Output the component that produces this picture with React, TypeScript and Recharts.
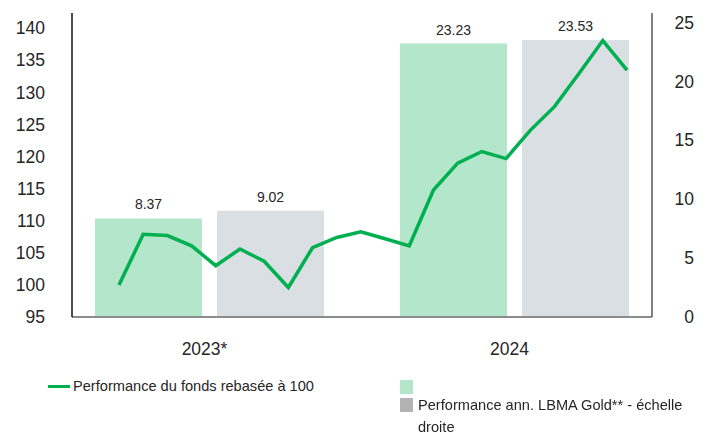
import React from "react";
import {
  BarChart,
  Bar,
  LineChart,
  Line,
  XAxis,
  YAxis,
  LabelList,
} from "recharts";

const years = ["2023*", "2024"];
const fundAnnual = [8.37, 23.23];
const goldAnnual = [9.02, 23.53];

const months = [
  "03/23", "04/23", "05/23", "06/23", "07/23", "08/23", "09/23", "10/23", "11/23", "12/23",
  "01/24", "02/24", "03/24", "04/24", "05/24", "06/24", "07/24", "08/24", "09/24", "10/24",
  "11/24", "12/24",
];
const fundIndex = [
  100.0, 107.9, 107.7, 106.1, 103.0, 105.6, 103.7, 99.6, 105.8, 107.4,
  108.3, 107.2, 106.1, 114.8, 119.0, 120.8, 119.7, 124.1, 127.8, 132.9,
  138.1, 133.5,
];

const leftTicks = [95, 100, 105, 110, 115, 120, 125, 130, 135, 140];
const rightTicks = [0, 5, 10, 15, 20, 25];

const GREEN = "#00b050";
const BAR_GREEN = "#b3e6cb";
const BAR_GREY = "#dadfe3";
const TEXT = "#262626";
const FONT = "'Liberation Sans', Arial, sans-serif";

const W = 706;
const H = 436;

const barData = years.map((y, i) => ({ year: y, fund: fundAnnual[i], gold: goldAnnual[i] }));
const lineData = months.map((m, i) => ({ month: m, value: fundIndex[i] }));

function YearTick({ x, y, payload }: any) {
  return (
    <text x={x - 5} y={y} dy={12} textAnchor="middle" fill={TEXT} fontSize={17.5} fontFamily={FONT}>
      {payload.value}
    </text>
  );
}

function RightTick({ x, y, payload }: any) {
  return (
    <text x={x + 40} y={y} dy={6} textAnchor="end" fill={TEXT} fontSize={17.5} fontFamily={FONT}>
      {payload.value}
    </text>
  );
}

function LeftTick({ y, payload }: any) {
  return (
    <text x={45} y={y} dy={6} textAnchor="end" fill={TEXT} fontSize={17.5} fontFamily={FONT}>
      {payload.value}
    </text>
  );
}

export default function App() {
  return (
    <div style={{ position: "fixed", left: 0, top: 0, width: W, height: H, background: "#fff", fontFamily: FONT }}>
      <div style={{ position: "absolute", left: 0, top: 0 }}>
        <BarChart
          width={W}
          height={H}
          data={barData}
          margin={{ top: 13, right: 39, bottom: 79, left: 57 }}
          barSize={107}
          barGap={15}
        >
          <XAxis
            dataKey="year"
            height={40}
            axisLine={false}
            tickLine={false}
            tickSize={0}
            tickMargin={26}
            tick={<YearTick />}
          />
          <YAxis hide domain={[0, 25.83]} allowDataOverflow />
          <Bar dataKey="fund" fill={BAR_GREEN} isAnimationActive={false}>
            <LabelList dataKey="fund" position="top" offset={9} fill={TEXT} fontSize={14} fontFamily={FONT} />
          </Bar>
          <Bar dataKey="gold" fill={BAR_GREY} isAnimationActive={false}>
            <LabelList dataKey="gold" position="top" offset={9} fill={TEXT} fontSize={14} fontFamily={FONT} />
          </Bar>
        </BarChart>
      </div>
      <div style={{ position: "absolute", left: 0, top: 0 }}>
        <LineChart width={W} height={H} data={lineData} margin={{ top: 13, right: 0, bottom: 118, left: 0 }}>
          <XAxis
            dataKey="month"
            height={1}
            tick={false}
            tickLine={false}
            padding={{ left: 47, right: 25 }}
            axisLine={{ stroke: "#8c8c8c", strokeWidth: 2 }}
          />
          <YAxis
            yAxisId="left"
            width={72}
            domain={[95, 142.4]}
            ticks={leftTicks}
            allowDataOverflow
            tickLine={false}
            tickSize={0}
            axisLine={{ stroke: "#111", strokeWidth: 1.5 }}
            tick={<LeftTick />}
          />
          <YAxis
            yAxisId="right"
            orientation="right"
            width={54}
            domain={[0, 25.83]}
            ticks={rightTicks}
            allowDataOverflow
            tickLine={false}
            tickSize={0}
            axisLine={{ stroke: "#595959", strokeWidth: 1.5 }}
            tick={<RightTick />}
          />
          <Line
            yAxisId="left"
            type="linear"
            dataKey="value"
            stroke={GREEN}
            strokeWidth={3.5}
            dot={false}
            isAnimationActive={false}
          />
        </LineChart>
      </div>
      <div style={{ position: "absolute", left: 48, top: 378, display: "flex", alignItems: "center", fontSize: 14.6, color: TEXT }}>
        <span style={{ display: "inline-block", width: 22, height: 3, background: GREEN, marginRight: 3 }} />
        <span>Performance du fonds rebasée à 100</span>
      </div>
      <div style={{ position: "absolute", left: 400, top: 380, width: 13, height: 14, background: BAR_GREEN }} />
      <div style={{ position: "absolute", left: 400, top: 398, width: 13, height: 14, background: "#b3b3b3" }} />
      <div style={{ position: "absolute", left: 418, top: 394, width: 285, fontSize: 14.6, lineHeight: "22px", color: TEXT }}>
        Performance ann. LBMA Gold** - échelle droite
      </div>
    </div>
  );
}
